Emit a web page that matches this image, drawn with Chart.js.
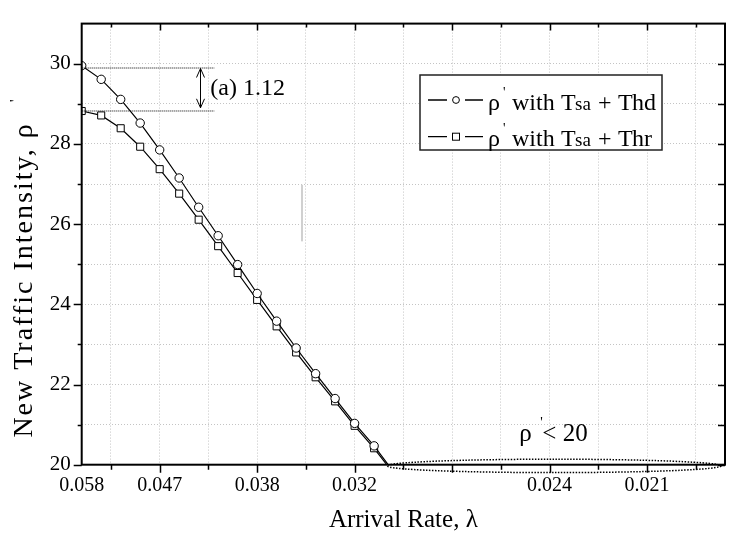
<!DOCTYPE html>
<html><head><meta charset="utf-8">
<script src="https://cdn.jsdelivr.net/npm/chart.js@4.4.1/dist/chart.umd.min.js"></script>
<style>html,body{margin:0;padding:0;background:#fff}#wrap{width:731px;height:539px}</style>
</head><body><div id="wrap"><canvas id="c" width="731" height="539"></canvas></div>
<script>
// ---- data ----
const arrivalIndex = [0,1,2,3,4,5,6,7,8,9,10,11,12,13,14,15,16];
const rhoHd = [29.95,29.61,29.11,28.52,27.85,27.15,26.42,25.71,24.99,24.27,23.58,22.91,22.27,21.65,21.03,20.47,19.82];
const rhoHr = [28.82,28.71,28.39,27.93,27.37,26.76,26.11,25.45,24.78,24.11,23.45,22.80,22.18,21.58,20.97,20.41,19.78];
const xLabelPos = [0,4,9,14,24,29];
const xLabels = ['0.058','0.047','0.038','0.032','0.024','0.021'];
const xMinorPos = [1.5,6.5,11.5,16.5,21.5,26.5,31.5];
const xMajorPos = [4,9,14,19,24,29];
const yLabelValues = [20,22,24,26,28,30];
const yGridValues = [20,21,22,23,24,25,26,27,28,29,30,31];
const seriesLabels = ['ρ′ with Tsa + Thd','ρ′ with Tsa + Thr'];

const SERIF = '"Liberation Serif","Times New Roman",serif';
Chart.defaults.font.family = SERIF;
Chart.defaults.color = '#000';

const xTickValues = [0].concat(xMinorPos, xMajorPos).sort((a,b)=>a-b);

const decor = {
  id: 'decor',
  afterDraw(chart) {
    const {ctx, chartArea: a, scales: {x, y}} = chart;
    const X = v => x.getPixelForValue(v), Y = v => y.getPixelForValue(v);
    ctx.save();
    ctx.fillStyle = '#000'; ctx.strokeStyle = '#000';

    // faint grey vertical stroke
    ctx.strokeStyle = '#d0d0d0'; ctx.lineWidth = 2;
    ctx.beginPath(); ctx.moveTo(X(11.3), Y(26.98)); ctx.lineTo(X(11.3), Y(25.57)); ctx.stroke();

    // annotation (a) 1.12
    ctx.strokeStyle = '#000'; ctx.lineWidth = 1; ctx.setLineDash([1,1]);
    ctx.beginPath(); ctx.moveTo(X(0), Y(29.905)+0.5); ctx.lineTo(X(6.8), Y(29.905)+0.5); ctx.stroke();
    ctx.beginPath(); ctx.moveTo(X(0), Y(28.833)+0.5); ctx.lineTo(X(6.8), Y(28.833)+0.5); ctx.stroke();
    ctx.setLineDash([]);
    const ax = Math.round(X(6.07))+0.5, ay1 = Y(29.88), ay2 = Y(28.9);
    ctx.beginPath(); ctx.moveTo(ax, ay1); ctx.lineTo(ax, ay2);
    ctx.moveTo(ax-4, ay1+9); ctx.lineTo(ax, ay1); ctx.lineTo(ax+4, ay1+9);
    ctx.moveTo(ax-4, ay2-9); ctx.lineTo(ax, ay2); ctx.lineTo(ax+4, ay2-9);
    ctx.stroke();
    ctx.font = '24px ' + SERIF; ctx.textAlign = 'left'; ctx.textBaseline = 'alphabetic';
    ctx.fillText('(a) 1.12', X(6.6), Y(29.23));

    // ellipse rho' < 20
    ctx.lineWidth = 1.5; ctx.setLineDash([1.5,1.5]);
    ctx.beginPath(); ctx.ellipse(X(24.23), Y(19.97), 167, 6.7, 0, 0, Math.PI*2); ctx.stroke();
    ctx.setLineDash([]);
    ctx.font = '25px ' + SERIF;
    ctx.fillText('ρ', X(22.45), Y(20.58));
    ctx.fillText('< 20', X(23.63), Y(20.58));
    ctx.font = '14px ' + SERIF;
    ctx.fillText("'", X(23.52), Y(20.58)-14);

    // frame
    ctx.lineWidth = 2; ctx.strokeStyle = '#000';
    ctx.strokeRect(a.left, a.top, a.right-a.left, a.bottom-a.top);

    // tick marks
    ctx.lineWidth = 1.5; ctx.beginPath();
    xMinorPos.forEach(v => { const px = Math.round(X(v))+0.5;
      ctx.moveTo(px, a.bottom); ctx.lineTo(px, a.bottom+5);
      ctx.moveTo(px, a.top); ctx.lineTo(px, a.top+4); });
    xMajorPos.forEach(v => { const px = Math.round(X(v))+0.5;
      ctx.moveTo(px, a.bottom); ctx.lineTo(px, a.bottom+8);
      ctx.moveTo(px, a.top); ctx.lineTo(px, a.top+7); });
    yGridValues.forEach(v => { if (v === 31) return; const py = Math.round(Y(v))+0.5;
      const len = (yLabelValues.indexOf(v) >= 0) ? 8 : 4;
      ctx.moveTo(a.left - len, py); ctx.lineTo(a.left, py);
      ctx.moveTo(a.right - 7, py); ctx.lineTo(a.right, py); });
    ctx.stroke();

    // legend box
    const lx = 420, ly = 75, lw = 242, lh = 75;
    ctx.fillStyle = '#fff'; ctx.fillRect(lx, ly, lw, lh);
    ctx.lineWidth = 1.5; ctx.strokeStyle = '#222'; ctx.strokeRect(lx, ly, lw, lh);
    ctx.fillStyle = '#000'; ctx.strokeStyle = '#000';
    const rows = [{cy: 100, base: 110, sym: 'circle', tail: 'hd'}, {cy: 136.7, base: 146, sym: 'rect', tail: 'hr'}];
    rows.forEach(r => {
      ctx.lineWidth = 1.3;
      ctx.beginPath(); ctx.moveTo(428, r.cy); ctx.lineTo(447, r.cy); ctx.moveTo(465, r.cy); ctx.lineTo(483, r.cy); ctx.stroke();
      ctx.lineWidth = 1;
      if (r.sym === 'circle') { ctx.beginPath(); ctx.arc(456, r.cy, 3.4, 0, Math.PI*2); ctx.stroke(); }
      else { ctx.strokeRect(452.5, r.cy-3.5, 7, 7); }
      ctx.font = '24px ' + SERIF;
      ctx.fillText('ρ', 488, r.base);
      ctx.font = '14px ' + SERIF;
      ctx.fillText("'", 503, r.base-13);
      ctx.font = '24px ' + SERIF;
      ctx.fillText('with', 512, r.base);
      ctx.fillText('T', 561, r.base);
      ctx.font = '19px ' + SERIF;
      ctx.fillText('sa', 575, r.base);
      ctx.font = '24px ' + SERIF;
      ctx.fillText('+', 598, r.base);
      ctx.fillText('T', 618, r.base);
      ctx.fillText(r.tail, 632, r.base);
    });

    // axis titles
    ctx.font = '25px ' + SERIF; ctx.textAlign = 'center'; ctx.textBaseline = 'alphabetic';
    ctx.fillText('Arrival Rate, λ', (a.left+a.right)/2, 527);
    ctx.save();
    ctx.font = '28px ' + SERIF;
    ctx.translate(32, 280); ctx.rotate(-Math.PI/2);
    ctx.letterSpacing = '2px';
    ctx.fillText('New Traffic Intensity, ρ', 0, 0);
    ctx.restore();
    ctx.font = '15px ' + SERIF; ctx.textAlign = 'left';
    ctx.save(); ctx.translate(20, 102); ctx.rotate(-Math.PI/2); ctx.fillText("'", 0, 0); ctx.restore();

    ctx.restore();
  }
};

new Chart(document.getElementById('c'), {
  type: 'line',
  data: {
    datasets: [
      { label: seriesLabels[0], data: arrivalIndex.map((v,i)=>({x:v, y:rhoHd[i]})),
        borderColor:'#000', borderWidth:1.2, tension:0, pointStyle:'circle', pointRadius:4.2,
        pointBackgroundColor:'#fff', pointBorderColor:'#000', pointBorderWidth:1 },
      { label: seriesLabels[1], data: arrivalIndex.map((v,i)=>({x:v, y:rhoHr[i]})),
        borderColor:'#000', borderWidth:1.2, tension:0, pointStyle:'rect', pointRadius:5,
        pointBackgroundColor:'#fff', pointBorderColor:'#000', pointBorderWidth:1 }
    ]
  },
  options: {
    responsive:false, animation:false, devicePixelRatio:1,
    layout:{padding:{top:1.5, right:2, left:0, bottom:0}},
    plugins:{legend:{display:false}, tooltip:{enabled:false}},
    scales:{
      x:{ type:'linear', min:0, max:33,
        afterBuildTicks: s => { s.ticks = xTickValues.map(v=>({value:v})); },
        afterFit: s => { s.height = 74.3; },
        ticks:{ autoSkip:false, maxRotation:0, padding:9, font:{size:20},
          callback: v => { const k = xLabelPos.indexOf(v); return k >= 0 ? xLabels[k] : ''; } },
        grid:{ drawTicks:false, lineWidth:1,
          color: c => (c.tick && c.tick.value > 0 && c.tick.value < 33) ? '#c4c4c4' : 'rgba(0,0,0,0)' },
        border:{ display:false, dash:[1,2] } },
      y:{ type:'linear', min:20, max:31,
        afterBuildTicks: s => { s.ticks = yGridValues.map(v=>({value:v})); },
        afterFit: s => { s.width = 81.7; },
        ticks:{ autoSkip:false, padding:11, font:{size:21},
          callback: v => yLabelValues.indexOf(v) >= 0 ? String(v) : '' },
        grid:{ drawTicks:false, lineWidth:1,
          color: c => (c.tick && c.tick.value > 20 && c.tick.value < 31) ? '#c4c4c4' : 'rgba(0,0,0,0)' },
        border:{ display:false, dash:[1,2] } }
    }
  },
  plugins:[decor]
});
</script>
</body></html>
